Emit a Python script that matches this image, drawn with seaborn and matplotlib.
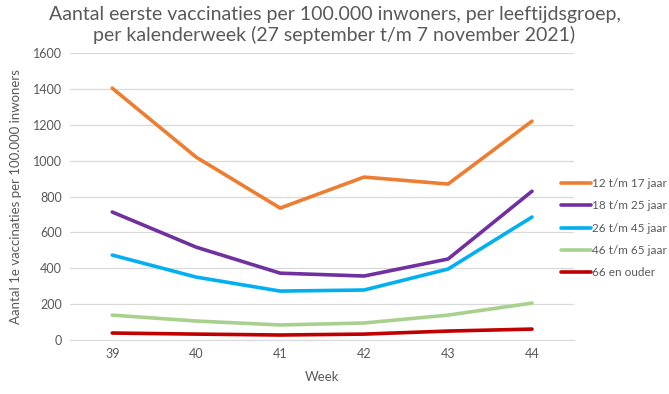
import pandas as pd
import matplotlib.pyplot as plt
import seaborn as sns

weeks = [39, 40, 41, 42, 43, 44]
groups = ['12 t/m 17 jaar', '18 t/m 25 jaar', '26 t/m 45 jaar', '46 t/m 65 jaar', '66 en ouder']
age_12_17 = [1405, 1020, 736, 909, 870, 1221]
age_18_25 = [714, 518, 373, 357, 452, 830]
age_26_45 = [474, 351, 273, 279, 396, 686]
age_46_65 = [139, 106, 84, 95, 139, 206]
age_66_plus = [39, 33, 28, 33, 50, 61]
colors = ['#ed7d31', '#7030a0', '#00b0f0', '#a9d18e', '#c00000']

rows = []
for g, vals in zip(groups, [age_12_17, age_18_25, age_26_45, age_46_65, age_66_plus]):
    for w, v in zip(weeks, vals):
        rows.append({'week': w, 'groep': g, 'waarde': v})
df = pd.DataFrame(rows)

sns.set_style('white')
plt.rcParams['font.family'] = ['Lato', 'DejaVu Sans']
grey = '#595959'

fig = plt.figure(figsize=(6.69, 3.94), dpi=100)
ax = fig.add_axes([0.105, 0.137, 0.753, 0.728])
sns.lineplot(data=df, x='week', y='waarde', hue='groep', hue_order=groups,
             palette=colors, linewidth=2.6, ax=ax, legend=True)

ax.set_xlim(38.5, 44.5)
ax.set_ylim(0, 1600)
ax.set_yticks(range(0, 1601, 200))
ax.set_xticks(weeks)
ax.grid(axis='y', color='#d9d9d9', linewidth=0.9)
ax.set_axisbelow(True)
for s in ['top', 'right', 'left']:
    ax.spines[s].set_visible(False)
ax.spines['bottom'].set_color('#d9d9d9')
ax.tick_params(axis='both', length=0, labelsize=9, colors=grey, pad=6)
ax.set_xlabel('Week', fontsize=9.5, color=grey, labelpad=8)
ax.set_ylabel('Aantal 1e vaccinaties per 100.000 inwoners', fontsize=9.5, color=grey, labelpad=8)

fig.suptitle('Aantal eerste vaccinaties per 100.000 inwoners, per leeftijdsgroep,\n'
             'per kalenderweek (27 september t/m 7 november 2021)',
             fontsize=14, color=grey, y=0.985, linespacing=1.2)

leg = ax.legend(loc='center left', bbox_to_anchor=(0.975, 0.39), frameon=False,
                fontsize=8.5, handlelength=2.5, handletextpad=0.1, labelspacing=0.95,
                borderpad=0, borderaxespad=0)
for t in leg.get_texts():
    t.set_color(grey)

fig.savefig('out.png', dpi=100)
